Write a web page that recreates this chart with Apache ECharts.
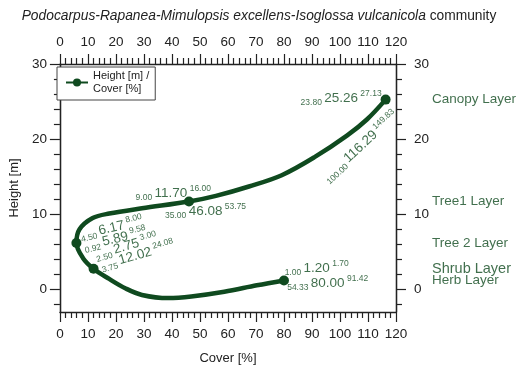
<!DOCTYPE html>
<html><head><meta charset="utf-8">
<script src="https://cdn.jsdelivr.net/npm/echarts@6/dist/echarts.min.js"></script>
<style>html,body{margin:0;padding:0;background:#fff}#c{width:518px;height:370px}</style>
</head><body><div id="c"></div>
<script>
// ---- data ----
const layers    = ['Herb Layer', 'Shrub Layer', 'Tree 2 Layer', 'Tree1 Layer', 'Canopy Layer'];
const cover     = [80.00, 12.02, 5.89, 46.08, 116.29];
const coverMin  = [54.33, 3.75, 0.92, 35.00, 100.00];
const coverMax  = [91.42, 24.08, 9.58, 53.75, 149.83];
const height    = [1.20, 2.75, 6.17, 11.70, 25.26];
const heightMin = [1.00, 2.50, 4.50, 9.00, 23.80];
const heightMax = [1.70, 3.00, 8.00, 16.00, 27.13];
// traced path of the drawn curve (cover, height)
const curveCover  = [80.0, 70.3, 58.7, 46.9, 38.7, 29.3, 23.5, 17.6, 12.02, 8.2, 5.89, 7.0, 11.7, 17.6, 29.3, 46.08, 55.7, 67.5, 79.2, 90.9, 102.6, 109.7, 116.29];
const curveHeight = [1.2, 0.55, -0.31, -0.94, -1.15, -0.73, 0.13, 1.4, 2.75, 4.2, 6.17, 8.0, 9.5, 10.1, 10.8, 11.70, 12.45, 13.7, 15.2, 17.6, 20.5, 22.65, 25.26];
const yTicks      = [0, 10, 20, 30];
const yMinorTicks = [-2, 2, 4, 6, 8, 12, 14, 16, 18, 22, 24, 26, 28];

// ---- styling / label layout (pixel offsets from marker, rotation deg) ----
const hLayout = [[32.7, -12.6, 0], [32.7, -22.3, 16], [35, -15, 13], [-15.7, -8.4, 0], [-44.5, -1.7, 0]];
const cLayout = [[43.7, 2.4, 0], [44, -13.3, 16], [38.8, -4, 13], [16.6, 10, 0], [-25, 47, 43]];
const layerFont = [13.5, 14.5, 13.5, 13.5, 13.5];

const GREEN = '#0f4a1f';
const TXT = '#124b20';
const AX = '#222';
const FONT = '"Liberation Sans", Arial, Helvetica, sans-serif';

function off(l) {
  const t = l[2] * Math.PI / 180, c = Math.cos(t), s = Math.sin(t);
  return [c * l[0] - s * l[1], s * l[0] + c * l[1]];
}
const rich = {
  b:  {fontSize: 13.5, lineHeight: 18, color: TXT, fontFamily: FONT},
  sb: {fontSize: 8.5, lineHeight: 9, verticalAlign: 'bottom', color: TXT, fontFamily: FONT},
  sp: {fontSize: 8.5, lineHeight: 9, verticalAlign: 'top', color: TXT, fontFamily: FONT}
};
const f2 = v => v.toFixed(2);

function labelSeries(name, lo, mid, hi, layout) {
  return {
    type: 'scatter', name: name, symbolSize: 0, silent: true, clip: false, z: 5,
    data: cover.map((c, i) => ({
      value: [c, height[i]],
      label: {offset: off(layout[i]), rotate: layout[i][2]}
    })),
    label: {
      show: true, position: 'inside', align: 'center', verticalAlign: 'middle',
      fontSize: 8.5, color: TXT, fontFamily: FONT,
      formatter: p => '{sb|' + f2(lo[p.dataIndex]) + '} {b|' + f2(mid[p.dataIndex]) + '} {sp|' + f2(hi[p.dataIndex]) + '}',
      rich: rich
    }
  };
}

const xBase = {
  type: 'value', min: 0, max: 120, interval: 10,
  axisLine: {show: true, onZero: false, lineStyle: {color: AX, width: 1.3}},
  axisTick: {show: true, length: 10, lineStyle: {color: AX, width: 1.2}},
  minorTick: {show: true, splitNumber: 5, length: 6, lineStyle: {color: AX, width: 1.2}},
  splitLine: {show: false},
  axisLabel: {color: AX, fontSize: 13.5, fontFamily: FONT, margin: 15}
};
function yAxis(pos, ticks, len, labels) {
  return {
    type: 'value', min: -3, max: 30, position: pos,
    axisLine: {show: true, onZero: false, lineStyle: {color: AX, width: 1.3}},
    axisTick: {show: true, length: len, customValues: ticks, lineStyle: {color: AX, width: 1.2}},
    splitLine: {show: false},
    axisLabel: {show: labels, customValues: ticks, color: AX, fontSize: 13.5, fontFamily: FONT, margin: pos === 'left' ? 13 : 18}
  };
}

const chart = echarts.init(document.getElementById('c'), null, {renderer: 'canvas'});
chart.setOption({
  animation: false,
  backgroundColor: '#fff',
  textStyle: {fontFamily: FONT},
  title: {
    left: 'center', top: 4,
    text: '{i|Podocarpus-Rapanea-Mimulopsis excellens-Isoglossa vulcanicola} {n|community}',
    textStyle: {
      fontWeight: 'normal', fontSize: 13.8,
      rich: {
        i: {fontStyle: 'italic', fontWeight: 'normal', fontSize: 13.8, color: '#222', fontFamily: FONT},
        n: {fontWeight: 'normal', fontSize: 13.8, color: '#222', fontFamily: FONT}
      }
    }
  },
  legend: {
    left: 57, top: 67, orient: 'vertical',
    padding: [0, 6, 2, 8],
    borderColor: '#444', borderWidth: 1, backgroundColor: '#fff',
    itemWidth: 22, itemHeight: 10, itemGap: 0,
    data: ['Height [m] /\nCover [%]'],
    textStyle: {fontSize: 11, lineHeight: 13, color: '#222', fontFamily: FONT, padding: [5, 0, 0, 0]}
  },
  grid: {left: 55, right: 122, top: 64, bottom: 47},
  xAxis: [
    Object.assign({}, xBase, {position: 'bottom', name: 'Cover [%]', nameLocation: 'middle', nameGap: 40,
      nameTextStyle: {fontSize: 13, color: '#222', fontFamily: FONT}}),
    Object.assign({}, xBase, {position: 'top'})
  ],
  yAxis: [
    Object.assign(yAxis('left', yTicks, 10, true), {name: 'Height [m]', nameLocation: 'middle', nameGap: 36,
      nameTextStyle: {fontSize: 13, color: '#222', fontFamily: FONT}}),
    yAxis('left', yMinorTicks, 6, false),
    yAxis('right', yTicks, 10, true),
    yAxis('right', yMinorTicks, 6, false)
  ],
  series: [
    {
      type: 'line', name: 'Height [m] /\nCover [%]', smooth: 0.35,
      symbol: 'circle', symbolSize: 9, showSymbol: false,
      data: curveCover.map((c, i) => [c, curveHeight[i]]),
      lineStyle: {color: GREEN, width: 4.5},
      itemStyle: {color: GREEN}, z: 3
    },
    {
      type: 'scatter', name: 'markers', symbol: 'circle', symbolSize: 10, silent: true,
      data: cover.map((c, i) => [c, height[i]]),
      itemStyle: {color: GREEN, opacity: 1}, z: 4
    },
    labelSeries('hlab', heightMin, height, heightMax, hLayout),
    labelSeries('clab', coverMin, cover, coverMax, cLayout),
    {
      type: 'scatter', name: 'layers', symbolSize: 0, silent: true, clip: false,
      data: layers.map((n, i) => ({value: [120, height[i]], label: {fontSize: layerFont[i]}})),
      label: {
        show: true, position: 'right', distance: 36, color: TXT, fontFamily: FONT,
        formatter: p => layers[p.dataIndex]
      }
    }
  ]
});
</script>
</body></html>
